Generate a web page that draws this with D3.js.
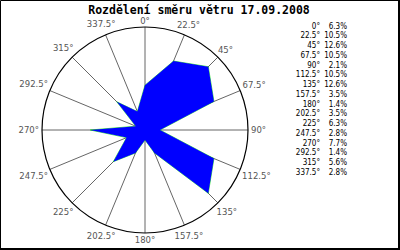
<!DOCTYPE html>
<html>
<head>
<meta charset="utf-8">
<script src="https://cdn.jsdelivr.net/npm/d3@7"></script>
<style>
  body { margin: 0; background: #fff; }
  svg { display: block; }
</style>
</head>
<body>
<svg id="vis"></svg>
<script>
// wind direction categories (degrees) and share of time (%)
const directions = [0, 22.5, 45, 67.5, 90, 112.5, 135, 157.5, 180, 202.5, 225, 247.5, 270, 292.5, 315, 337.5];
const directionLabels = ["0°", "22.5°", "45°", "67.5°", "90°", "112.5°", "135°", "157.5°", "180°", "202.5°", "225°", "247.5°", "270°", "292.5°", "315°", "337.5°"];
const shares = [6.3, 10.5, 12.6, 10.5, 2.1, 10.5, 12.6, 3.5, 1.4, 3.5, 6.3, 2.8, 7.7, 1.4, 5.6, 2.8];
const shareLabels = ["6.3%", "10.5%", "12.6%", "10.5%", "2.1%", "10.5%", "12.6%", "3.5%", "1.4%", "3.5%", "6.3%", "2.8%", "7.7%", "1.4%", "5.6%", "2.8%"];
const title = "Rozdělení směru větru 17.09.2008";

const W = 400, H = 250;
const CX = 145, CY = 130, R = 103;

const svg = d3.select("#vis").attr("width", W).attr("height", H);

// frame (thin top/left, heavier right/bottom)
svg.append("rect").attr("x", 0).attr("y", 0).attr("width", W).attr("height", H).attr("fill", "#fff");
svg.append("path")
    .attr("d", "M0.5,250 V0.5 H399")
    .attr("fill", "none").attr("stroke", "#000").attr("stroke-width", 1);
svg.append("path")
    .attr("d", "M399,0 V249 H0")
    .attr("fill", "none").attr("stroke", "#000").attr("stroke-width", 2);

svg.append("text")
    .attr("x", 199).attr("y", 13.5)
    .attr("text-anchor", "middle")
    .attr("font-family", "DejaVu Sans Mono")
    .attr("font-weight", "bold")
    .attr("font-size", 11.5)
    .text(title);

const angle = d3.scaleLinear().domain([0, 360]).range([0, 2 * Math.PI]);
const radius = d3.scaleLinear().domain([0, 14.5]).range([0, R]);

const g = svg.append("g").attr("transform", "translate(" + CX + "," + CY + ")");

// spokes
g.selectAll("line.spoke")
    .data(directions)
    .enter().append("line")
    .attr("class", "spoke")
    .attr("x1", 0).attr("y1", 0)
    .attr("x2", d => R * Math.sin(angle(d)))
    .attr("y2", d => -R * Math.cos(angle(d)))
    .attr("stroke", "#666").attr("stroke-width", 1);

// outer circle
g.append("circle").attr("r", R)
    .attr("fill", "none").attr("stroke", "#000").attr("stroke-width", 1.2);

// rose polygon
const rose = d3.lineRadial()
    .angle((d, i) => angle(directions[i]))
    .radius(d => radius(d))
    .curve(d3.curveLinearClosed);

g.append("path").attr("d", rose(shares))
    .attr("fill", "none").attr("stroke", "#00e000").attr("stroke-width", 0.7);
g.append("path").attr("d", rose(shares))
    .attr("fill", "#0000ff").attr("stroke", "none");

// direction labels around the circle
const labelFont = 8.5;
const labels = g.selectAll("text.dir")
    .data(directions)
    .enter().append("text")
    .attr("class", "dir")
    .attr("font-family", "DejaVu Sans")
    .attr("font-size", labelFont)
    .attr("fill", "#555")
    .attr("text-anchor", "middle")
    .attr("dominant-baseline", "central")
    .text((d, i) => directionLabels[i]);

labels.each(function(d) {
    const w = this.getComputedTextLength();
    const h = 7;
    const s = Math.sin(angle(d)), c = Math.cos(angle(d));
    const dist = R + 3 + Math.abs(s) * w / 2 + Math.abs(c) * h / 2;
    d3.select(this).attr("x", dist * s).attr("y", -dist * c);
});

// legend table
const legendRow = d3.scaleLinear().domain([0, 1]).range([28.5, 38.25]);
const legend = svg.append("g")
    .attr("font-family", "DejaVu Sans Condensed, DejaVu Sans")
    .attr("font-size", 8)
    .attr("fill", "#000");

legend.selectAll("text.deg")
    .data(directionLabels)
    .enter().append("text")
    .attr("class", "deg")
    .attr("x", 320)
    .attr("y", (d, i) => legendRow(i))
    .attr("text-anchor", "end")
    .text(d => d);

legend.selectAll("text.pct")
    .data(shareLabels)
    .enter().append("text")
    .attr("class", "pct")
    .attr("x", 347)
    .attr("y", (d, i) => legendRow(i))
    .attr("text-anchor", "end")
    .text(d => d);
</script>
</body>
</html>
